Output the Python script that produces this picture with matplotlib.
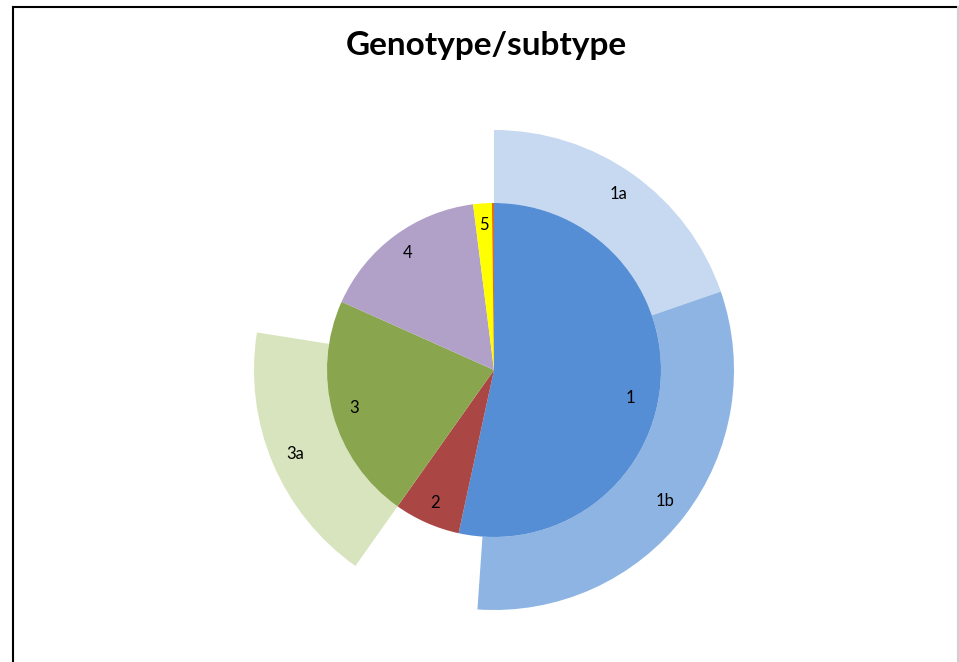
import matplotlib
matplotlib.use("Agg")
import matplotlib.pyplot as plt
from matplotlib.lines import Line2D

# Data (percent of samples)
genotypes = ["1", "2", "3", "4", "5", "6"]
genotype_values = [53.4, 6.4, 21.9, 16.3, 1.8, 0.2]
genotype_colors = ["#558ED5", "#AA4643", "#89A54E", "#B1A0C7", "#FFFF00", "#E46C0A"]

# Outer ring: subtypes (None = no subtype shown)
subtypes = ["1a", "1b", None, None, "3a", None, None, None, None]
subtype_values = [19.7, 31.4, 2.3, 6.4, 17.7, 4.2, 16.3, 1.8, 0.2]
subtype_colors = ["#C6D9F1", "#8EB4E3", "none", "none", "#D7E4BD", "none", "none", "none", "none"]

W, H = 959, 662
fig = plt.figure(figsize=(W / 100, H / 100), dpi=100)
ax = fig.add_axes([0, 0, 1, 1])

cx, cy = 494, H - 370
r_in, r_out = 167, 240

font = "Lato"

# Outer ring
wedges_o, texts_o = ax.pie(
    subtype_values, center=(cx, cy), radius=r_out, startangle=90, counterclock=False,
    colors=subtype_colors, labels=[s if s else "" for s in subtypes],
    labeldistance=(r_in + r_out) / 2 / r_out + 0.05,
    wedgeprops=dict(width=r_out - r_in, linewidth=0, edgecolor="none"),
    textprops=dict(fontsize=12, family=font, ha="center", va="center"),
    frame=True,
)
for w, s in zip(wedges_o, subtypes):
    if s is None:
        w.set_visible(False)

# Inner pie
wedges_i, texts_i = ax.pie(
    genotype_values, center=(cx, cy), radius=r_in, startangle=90, counterclock=False,
    colors=genotype_colors, labels=genotypes[:5] + [""],
    labeldistance=0.87,
    wedgeprops=dict(linewidth=0, edgecolor="none"),
    textprops=dict(fontsize=12, family=font, ha="center", va="center"),
    frame=True,
)
# Label of genotype 1 sits a bit lower / further in, as in the reference
texts_i[0].set_position((cx + 136, cy - 28))

ax.set_xlim(0, W)
ax.set_ylim(0, H)
ax.set_aspect("equal")
ax.axis("off")

# Title
fig.text(486 / W, 1 - 45 / H, "Genotype/subtype", ha="center", va="center",
         fontsize=24, fontweight="bold", family=font)

# Chart border
def px(x, y):
    return x / W, 1 - y / H

for (x0, y0), (x1, y1), col in [((12.5, 6.5), (12.5, 700), "#000000"),
                                 ((12.5, 6.5), (957.5, 6.5), "#000000"),
                                 ((957.5, 6.5), (957.5, 700), "#D0D0D0")]:
    a, b = px(x0, y0)
    c, d = px(x1, y1)
    fig.add_artist(Line2D([a, c], [b, d], transform=fig.transFigure, color=col, linewidth=1.5))

fig.savefig("out.png", dpi=100)
